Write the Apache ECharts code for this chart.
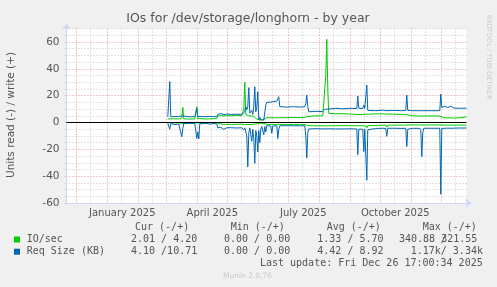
<!DOCTYPE html>
<html><head><meta charset="utf-8">
<script src="https://cdn.jsdelivr.net/npm/echarts@6/dist/echarts.min.js"></script>
<style>html,body{margin:0;padding:0;background:#f0f0f0}#c{width:497px;height:287px}</style>
</head><body><div id="c"></div>
<script>
// ---- data ----
const dates = [
 '2025-03-03','2025-03-04','2025-03-05','2025-03-06','2025-03-08','2025-03-10','2025-03-12','2025-03-14','2025-03-16','2025-03-17',
 '2025-03-18','2025-03-19','2025-03-24','2025-03-30','2025-03-31','2025-04-01','2025-04-02','2025-04-03','2025-04-04','2025-04-10',
 '2025-04-14','2025-04-17','2025-04-21','2025-04-22','2025-04-25','2025-04-28','2025-05-01','2025-05-06','2025-05-11','2025-05-16',
 '2025-05-18','2025-05-19','2025-05-20','2025-05-21','2025-05-22','2025-05-23','2025-05-24','2025-05-26','2025-05-27','2025-05-28',
 '2025-05-29','2025-05-30','2025-05-31','2025-06-01','2025-06-02','2025-06-03','2025-06-04','2025-06-05','2025-06-07','2025-06-08',
 '2025-06-09','2025-06-10','2025-06-14','2025-06-15','2025-06-16','2025-06-20','2025-06-21','2025-06-22','2025-06-23','2025-06-30',
 '2025-07-07','2025-07-14','2025-07-18','2025-07-19','2025-07-20','2025-07-21','2025-07-22','2025-07-29','2025-08-05','2025-08-07',
 '2025-08-08','2025-08-09','2025-08-10','2025-08-11','2025-08-18','2025-08-25','2025-09-01','2025-09-08','2025-09-09','2025-09-10',
 '2025-09-14','2025-09-15','2025-09-16','2025-09-17','2025-09-18','2025-09-19','2025-09-20','2025-09-27','2025-10-04','2025-10-07',
 '2025-10-08','2025-10-09','2025-10-16','2025-10-23','2025-10-27','2025-10-28','2025-10-29','2025-11-03','2025-11-10','2025-11-11',
 '2025-11-12','2025-11-13','2025-11-14','2025-11-21','2025-11-30','2025-12-01','2025-12-02','2025-12-05','2025-12-08','2025-12-11',
 '2025-12-14','2025-12-19','2025-12-26 17:00'
];
const ioWrite = [
 2.6,2.6,2.6,2.7,2.6,2.8,2.6,2.6,2.7,3.5,
 11.3,2.7,2.6,2.6,3.5,11.8,3.0,2.6,2.6,2.6,
 2.7,2.8,2.9,4.8,5.2,4.9,5.1,5.0,5.3,5.0,
 10.0,30.0,6.0,5.0,5.5,5.0,4.5,5.0,4.8,4.2,
 4.0,3.2,2.5,2.0,1.9,1.9,1.9,1.9,2.2,2.1,
 3.6,3.6,3.5,3.7,3.6,3.5,4.5,3.8,3.6,3.6,
 3.8,3.6,3.7,4.0,4.3,4.5,5.2,5.0,5.0,5.5,
 35.0,62.0,25.0,6.8,6.5,6.6,6.3,6.0,5.5,6.2,
 6.0,5.2,6.0,6.2,5.5,6.3,6.2,6.5,6.4,6.3,
 5.8,6.3,6.2,6.0,5.9,6.0,5.8,5.0,4.8,4.8,
 4.7,4.8,4.8,4.9,4.8,4.5,3.6,3.4,3.5,3.4,
 3.3,3.5,4.2
];
const ioRead = [
 -0.2,-0.2,-0.3,-0.2,-0.2,-0.3,-0.2,-0.2,-0.4,-0.8,
 -0.5,-0.3,-0.2,-0.2,-0.3,-0.5,-0.4,-0.3,-0.2,-0.2,
 -0.2,-0.3,-0.3,-1.3,-1.1,-1.4,-1.3,-1.5,-1.3,-1.3,
 -1.6,-1.5,-1.4,-1.3,-1.5,-1.4,-1.3,-1.5,-1.4,-1.3,
 -1.2,-1.0,-0.9,-0.8,-0.5,-0.5,-0.5,-0.6,-0.7,-0.8,
 -1.4,-1.4,-1.4,-1.5,-1.4,-1.4,-1.5,-1.4,-1.4,-1.4,
 -1.4,-1.4,-1.5,-1.8,-2.0,-2.2,-2.6,-2.5,-2.4,-2.5,
 -2.6,-2.5,-2.4,-2.4,-2.4,-2.3,-2.4,-2.4,-3.5,-2.4,
 -2.4,-3.8,-2.4,-2.5,-4.0,-2.4,-2.3,-2.2,-2.0,-2.0,
 -3.5,-2.0,-2.0,-1.9,-1.9,-2.2,-1.9,-1.8,-1.8,-2.0,
 -3.0,-1.9,-1.8,-1.8,-1.8,-3.0,-1.9,-1.9,-2.0,-1.9,
 -2.0,-1.9,-2.01
];
const sizeWrite = [
 4.3,4.5,30.5,4.3,5.2,4.4,5.5,4.4,4.5,5.0,
 6.0,4.3,4.3,4.3,5.0,10.6,4.5,4.3,4.3,4.3,
 4.6,4.3,4.4,6.1,6.6,5.9,6.3,6.0,6.2,6.1,
 7.5,8.0,11.8,9.5,11.8,26.0,7.0,9.0,6.0,12.0,
 26.7,8.0,11.0,23.0,2.0,4.0,1.9,2.5,1.9,3.0,
 13.0,15.0,15.2,15.5,15.0,16.0,17.5,19.2,11.8,11.5,
 11.8,11.5,11.8,14.0,20.5,11.8,8.0,8.3,8.2,9.8,
 10.0,10.2,10.0,10.4,10.6,10.2,10.6,10.4,19.7,10.6,
 10.4,13.0,10.5,11.0,28.0,9.0,8.8,8.8,9.2,8.8,
 8.5,8.8,9.0,8.8,9.0,20.5,9.0,8.8,8.8,9.0,
 8.8,8.8,8.8,8.8,8.8,21.2,11.3,12.0,11.2,12.2,
 10.8,10.6,10.71
];
const sizeRead = [
 -0.6,-1.2,-5.0,-0.8,-0.6,-1.5,-0.7,-1.2,-1.8,-10.6,
 -4.5,-0.8,-0.6,-0.6,-1.0,-11.8,-7.0,-12.3,-1.0,-0.6,
 -1.2,-0.8,-1.0,-3.9,-3.5,-5.2,-3.9,-3.9,-4.1,-3.9,
 -5.5,-4.0,-4.5,-10.0,-33.0,-8.0,-4.0,-14.0,-5.0,-12.0,
 -30.4,-6.0,-10.0,-22.0,-6.0,-15.0,-5.0,-3.0,-9.3,-3.0,
 -7.0,-2.4,-2.6,-8.0,-2.6,-2.4,-12.0,-5.0,-2.4,-2.4,
 -2.4,-2.5,-2.4,-10.0,-26.5,-8.0,-4.8,-4.6,-4.8,-4.8,
 -4.7,-4.8,-4.8,-4.7,-4.8,-4.8,-4.7,-4.8,-24.0,-5.0,
 -5.0,-21.7,-5.0,-6.0,-43.0,-5.5,-4.5,-4.4,-4.3,-4.5,
 -10.3,-4.3,-4.3,-4.4,-4.3,-18.0,-5.0,-4.3,-4.4,-6.0,
 -25.5,-7.7,-4.3,-4.3,-4.3,-53.5,-4.5,-4.3,-4.2,-4.3,
 -4.2,-4.1,-4.10
];
const monthNames = ['January','February','March','April','May','June','July','August','September','October','November','December'];
const xLabelMonths = ['2025-01','2025-04','2025-07','2025-10'];
const rangeStart = '2024-11-21 17:00';
const rangeEnd = '2025-12-26 17:00';

// ---- helpers: time as days since 2025-01-01 (UTC arithmetic) ----
const EPOCH = Date.UTC(2025, 0, 1);
function dayOf(y, mo, d, h, mi){ return (Date.UTC(y, mo, d, h || 0, mi || 0) - EPOCH) / 86400000; }
function ts(s){
  const m = s.match(/(\d+)-(\d+)-(\d+)(?:\s+(\d+):(\d+))?/);
  return dayOf(+m[1], +m[2]-1, +m[3], m[4] ? +m[4] : 0, m[5] ? +m[5] : 0);
}
function dayToDate(v){ return new Date(EPOCH + v * 86400000); }
// month-start (major) and mid-month (minor) grid positions, Dec 2024 .. Dec 2025
const gridTicks = [];
for (let k = 0; k < 13; k++) {
  const y = 2024 + Math.floor((11 + k) / 12), m = (11 + k) % 12;
  gridTicks.push(dayOf(y, m, 1));
  gridTicks.push(dayOf(y, m, 15));
}
const labelTicks = xLabelMonths.map(s => { const p = s.split('-'); return dayOf(+p[0], +p[1]-1, 16, 12); });
const pairs = arr => dates.map((d, i) => [ts(d), arr[i]]);

const FONT = "'DejaVu Sans', sans-serif";
const MONO = "'DejaVu Sans Mono', monospace";
const TXT = '#555';

const chart = echarts.init(document.getElementById('c'), null, {renderer: 'canvas'});
const table = [
  {x: 135, y: 227.7, t: 'Cur (-/+)'}, {x: 230.7, y: 227.7, t: 'Min (-/+)'},
  {x: 326.7, y: 227.7, t: 'Avg (-/+)'}, {x: 422.7, y: 227.7, t: 'Max (-/+)'},
  {x: 26.7, y: 239.5, t: 'IO/sec'}, {x: 131, y: 239.5, t: '2.01 / 4.20'}, {x: 224, y: 239.5, t: '0.00 / 0.00'},
  {x: 317.3, y: 239.5, t: '1.33 / 5.70'}, {x: 399, y: 239.5, t: '340.88 321.55'}, {x: 440.8, y: 239.5, t: '/'},
  {x: 26.7, y: 251.7, t: 'Req Size (KB)'}, {x: 131, y: 251.7, t: '4.10 /10.71'}, {x: 224, y: 251.7, t: '0.00 / 0.00'},
  {x: 317.3, y: 251.7, t: '4.42 / 8.92'}, {x: 410.7, y: 251.7, t: '1.17k/ 3.34k'}
];
const graphics = table.map(o => ({type: 'text', x: o.x, y: o.y, silent: true,
  style: {text: o.t, font: '10px ' + MONO, fill: TXT, verticalAlign: 'middle', align: 'left'}}));
graphics.push(
  {type: 'text', x: 482.7, y: 263.5, silent: true, style: {text: 'Last update: Fri Dec 26 17:00:34 2025', font: '10px ' + MONO, fill: TXT, verticalAlign: 'middle', align: 'right'}},
  {type: 'text', x: 247.5, y: 276, silent: true, style: {text: 'Munin 2.0.76', font: '7.5px ' + FONT, fill: '#c8c8c8', verticalAlign: 'middle', align: 'center'}},
  {type: 'text', x: 248, y: 19, silent: true, style: {text: 'IOs for /dev/storage/longhorn - by year', font: '12.5px ' + FONT, fill: TXT, verticalAlign: 'middle', align: 'center'}},
  {type: 'text', x: 11, y: 115, rotation: Math.PI/2, silent: true, style: {text: 'Units read (-) / write (+)', font: '10.5px ' + FONT, fill: TXT, verticalAlign: 'middle', align: 'center'}},
  {type: 'text', x: 489, y: 57, rotation: -Math.PI/2, silent: true, style: {text: 'RRDTOOL / TOBI OETIKER', font: '6.6px ' + FONT, fill: '#c8c8c8', verticalAlign: 'middle', align: 'center'}},
  {type: 'rect', shape: {x: 14, y: 236.5, width: 6, height: 6}, silent: true, style: {fill: '#00cc00'}},
  {type: 'rect', shape: {x: 14, y: 248.7, width: 6, height: 6}, silent: true, style: {fill: '#0066b3'}}
);

const option = {
  animation: false,
  backgroundColor: '#f0f0f0',
  grid: {left: 66.5, width: 400, top: 28.6, height: 174.4, show: true, backgroundColor: '#ffffff', borderWidth: 0},
  xAxis: {
    type: 'value', min: ts(rangeStart), max: ts(rangeEnd),
    axisLine: {show: true, onZero: false, lineStyle: {color: '#cfd6f8', width: 1}, symbol: ['none', 'arrow'], symbolSize: [7, 6], symbolOffset: [0, 5]},
    axisTick: {show: false, customValues: gridTicks},
    splitLine: {show: true, lineStyle: {color: ['#e89090', '#c8c8c8'], width: 1, type: [1, 2]}},
    axisLabel: {customValues: labelTicks, color: TXT, fontFamily: FONT, fontSize: 10, margin: 5,
      formatter: v => { const d = dayToDate(v); return monthNames[d.getUTCMonth()] + ' ' + d.getUTCFullYear(); }}
  },
  yAxis: {
    type: 'value', min: -60, max: 70, interval: 5,
    axisLine: {show: true, onZero: false, lineStyle: {color: '#cfd6f8', width: 1}, symbol: ['none', 'arrow'], symbolSize: [7, 6], symbolOffset: [0, 5]},
    axisTick: {show: true, length: 2, lineStyle: {color: '#d0d0d0'}},
    splitLine: {show: true, lineStyle: {color: ['#e89090', '#c8c8c8', '#c8c8c8', '#c8c8c8'], width: 1, type: [1, 2]}},
    axisLabel: {color: TXT, fontFamily: FONT, fontSize: 10.5, margin: 7, formatter: v => (v % 20 === 0 ? String(v) : '')}
  },
  series: [
    {name: 'IO/sec read', type: 'line', data: pairs(ioRead), showSymbol: false, lineStyle: {color: '#00cc00', width: 1}, itemStyle: {color: '#00cc00'},
     markLine: {silent: true, symbol: 'none', label: {show: false}, lineStyle: {color: '#000000', width: 1.2, type: 'solid'}, data: [{yAxis: 0}]}},
    {name: 'IO/sec write', type: 'line', data: pairs(ioWrite), showSymbol: false, lineStyle: {color: '#00cc00', width: 1}, itemStyle: {color: '#00cc00'}},
    {name: 'Req Size read', type: 'line', data: pairs(sizeRead), showSymbol: false, lineStyle: {color: '#0066b3', width: 1}, itemStyle: {color: '#0066b3'}},
    {name: 'Req Size write', type: 'line', data: pairs(sizeWrite), showSymbol: false, lineStyle: {color: '#0066b3', width: 1}, itemStyle: {color: '#0066b3'}}
  ],
  graphic: graphics
};
chart.setOption(option);
</script></body></html>
